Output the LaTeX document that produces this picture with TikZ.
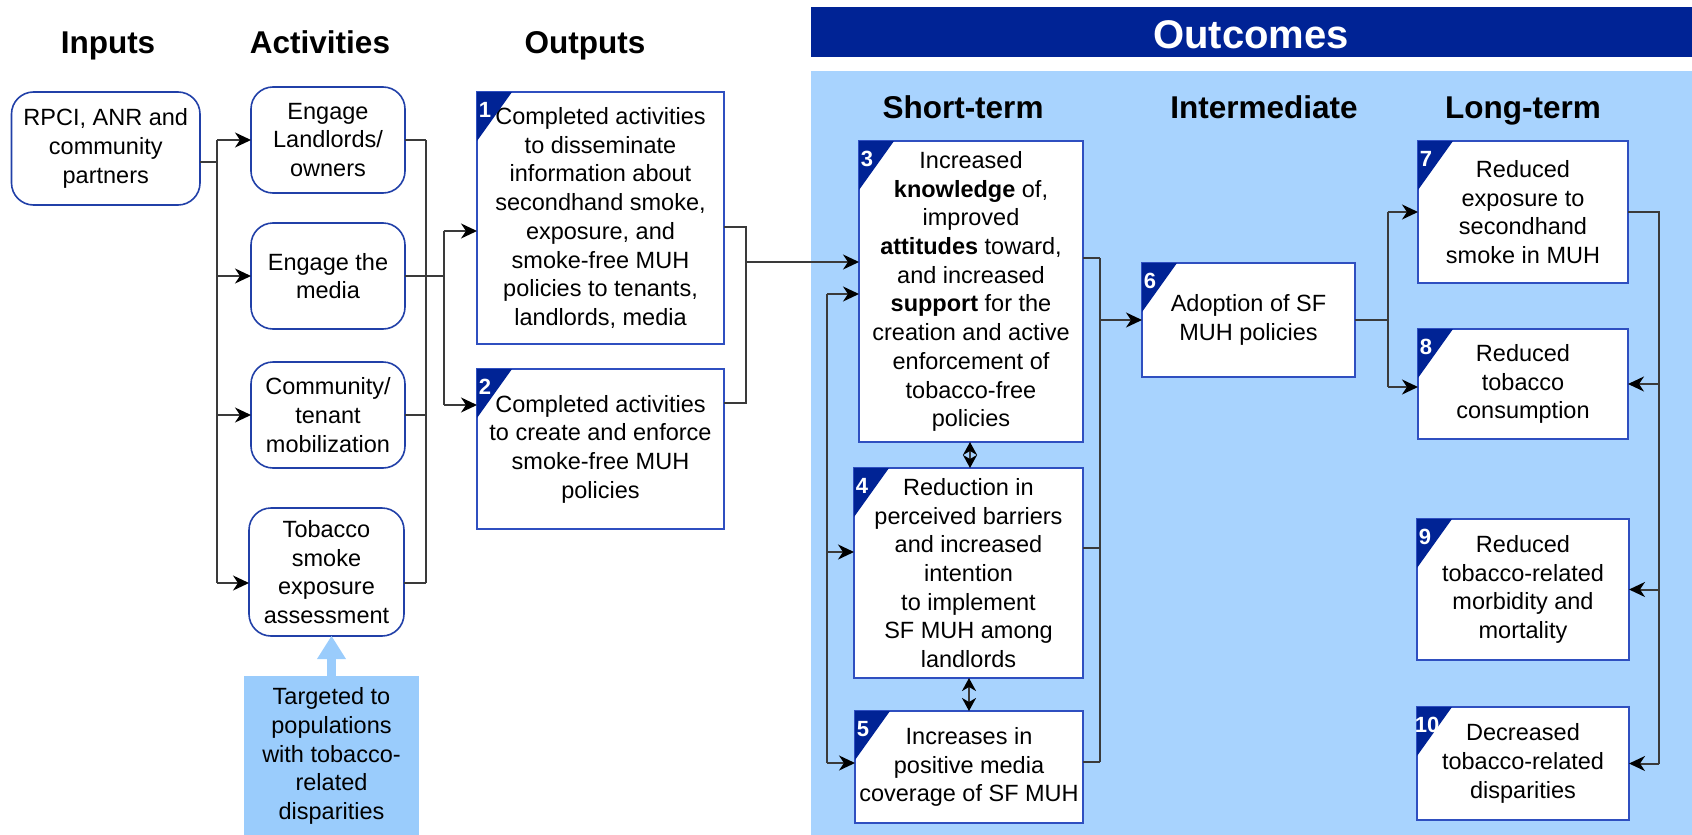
\documentclass[tikz,border=0pt]{standalone}
\usepackage{fontspec}
\setmainfont{Liberation Sans}
\usetikzlibrary{arrows.meta,calc}

\definecolor{navy}{HTML}{002395}
\definecolor{panelblue}{HTML}{A8D3FE}
\definecolor{tagblue}{HTML}{9ACCFC}
\definecolor{boxblue}{HTML}{2F4FC0}
\definecolor{rblue}{HTML}{2140A8}
\definecolor{wiregray}{HTML}{3A3A3A}

\newcommand\diagbody{\fontsize{23.5}{28.7}\selectfont}

\begin{document}
\begin{tikzpicture}[x=1pt,y=-1pt,
  box/.style={draw=boxblue,line width=2pt,fill=white,inner sep=0pt,outer sep=0pt,
    align=center,font=\diagbody},
  rbox/.style={box,draw=rblue,line width=1.6pt,rounded corners=22pt},
  coltitle/.style={anchor=base,font=\fontsize{31.5}{36}\selectfont\bfseries},
  numtag/.style={text=white,font=\fontsize{22}{24}\selectfont\bfseries,inner sep=0pt},
  wire/.style={draw=wiregray,line width=2pt},
  warrow/.style={wire,-{Stealth[length=16pt,width=15pt,inset=5pt,fill=black,color=black]}},
  dblarrow/.style={wire,{Stealth[length=13pt,width=14pt,inset=4pt,fill=black,color=black]}-{Stealth[length=13pt,width=14pt,inset=4pt,fill=black,color=black]}}
]
\useasboundingbox (0,0) rectangle (1692,835);

% outcomes banner and panel
\fill[navy] (811,7) rectangle (1692,57);
\fill[panelblue] (811,71) rectangle (1692,835);
\node[anchor=base,text=white,font=\fontsize{40}{44}\selectfont\bfseries] (outhead) at (1251,48) {Outcomes};

% column titles
\node[coltitle] (tin)  at (108,53)  {Inputs};
\node[coltitle] (tact) at (320,53)  {Activities};
\node[coltitle] (tout) at (585,53)  {Outputs};
\node[coltitle] (tst)  at (963,118) {Short-term};
\node[coltitle] (tint) at (1264,118) {Intermediate};
\node[coltitle] (tlt)  at (1523,118) {Long-term};

% inputs and activities
\node[rbox,minimum width=188.5pt,minimum height=113pt] (in) at (105.75,148.5)
  {RPCI, ANR and\\community\\partners};
\node[rbox,minimum width=154pt,minimum height=106pt] (a1) at (328,140) {Engage\\Landlords/\\owners};
\node[rbox,minimum width=154pt,minimum height=106pt] (a2) at (328,276) {Engage the\\media};
\node[rbox,minimum width=154pt,minimum height=106pt] (a3) at (328,415) {Community/\\tenant\\mobilization};
\node[rbox,minimum width=155pt,minimum height=128pt] (a4) at (326.5,572) {Tobacco\\smoke\\exposure\\assessment};
\node[box,draw=none,fill=tagblue,minimum width=175pt,minimum height=160pt] (tg) at (331.5,756)
  {Targeted to\\populations\\with tobacco-\\related\\disparities};

% outputs
\node[box,minimum width=247pt,minimum height=252pt] (o1) at (600.5,218)
  {Completed activities\\to disseminate\\information about\\secondhand smoke,\\exposure, and\\smoke-free MUH\\policies to tenants,\\landlords, media};
\node[box,minimum width=247pt,minimum height=160pt] (o2) at (600.5,449)
  {Completed activities\\to create and enforce\\smoke-free MUH\\policies};

% short-term outcomes
\node[box,minimum width=224pt,minimum height=301pt] (s3) at (971,291.5)
  {Increased\\\textbf{knowledge} of,\\improved\\\textbf{attitudes} toward,\\and increased\\\textbf{support} for the\\creation and active\\enforcement of\\tobacco-free\\policies};
\node[box,minimum width=229pt,minimum height=210pt] (s4) at (968.5,573)
  {Reduction in\\perceived barriers\\and increased\\intention\\to implement\\SF MUH among\\landlords};
\node[box,minimum width=228pt,minimum height=112pt] (s5) at (969,767)
  {Increases in\\positive media\\coverage of SF MUH};

% intermediate outcome
\node[box,minimum width=213pt,minimum height=114pt] (m6) at (1248.5,320) {Adoption of SF\\MUH policies};

% long-term outcomes
\node[box,minimum width=210pt,minimum height=142pt] (l7) at (1523,212) {Reduced\\exposure to\\secondhand\\smoke in MUH};
\node[box,minimum width=210pt,minimum height=110pt] (l8) at (1523,384) {Reduced\\tobacco\\consumption};
\node[box,minimum width=212pt,minimum height=141pt] (l9) at (1523,589.5) {Reduced\\tobacco-related\\morbidity and\\mortality};
\node[box,minimum width=212pt,minimum height=113pt] (l10) at (1523,763.5) {Decreased\\tobacco-related\\disparities};

% numbered corner tags
\foreach \n/\t/\dx in {o1/1/8,o2/2/8,s3/3/8,s4/4/8,s5/5/8,m6/6/8,l7/7/8,l8/8/8,l9/9/8,l10/10/10} {
  \fill[navy] (\n.north west) -- ++(35,0) -- ++(-35,49) -- cycle;
  \node[numtag] at ([xshift=\dx pt,yshift=-18pt]\n.north west) {\t};
}

% bus lines
\coordinate (busA) at (217,0);
\coordinate (busB) at (426,0);
\coordinate (busC) at (443.5,0);
\coordinate (busD) at (746,0);
\coordinate (busL) at (827,0);
\coordinate (busE) at (1100,0);
\coordinate (busF) at (1387.6,0);
\coordinate (busG) at (1659,0);

% connection points off the box centres
\coordinate (inout) at ([yshift=-13.5pt]in.east);
\coordinate (a4in)  at ([yshift=-11pt]a4.west);
\coordinate (a4out) at ([yshift=-11pt]a4.east);
\coordinate (o1in)  at ([yshift=-13pt]o1.west);
\coordinate (o2in)  at ([yshift=44pt]o2.west);
\coordinate (o1out) at ([yshift=-9pt]o1.east);
\coordinate (o2out) at ([yshift=46pt]o2.east);
\coordinate (s3in)  at ([yshift=29.5pt]s3.west);
\coordinate (s3loop) at ([yshift=-2.5pt]s3.west);
\coordinate (s4loop) at ([yshift=21pt]s4.west);
\coordinate (s5loop) at ([yshift=4pt]s5.west);
\coordinate (s3out) at ([yshift=33.5pt]s3.east);
\coordinate (s4out) at ([yshift=25pt]s4.east);
\coordinate (s5out) at ([yshift=5pt]s5.east);
\coordinate (l8in)  at ([yshift=-3pt]l8.west);

% inputs to activities
\draw[wire] (inout) -- (inout -| busA);
\draw[wire] (busA |- a1.west) -- (busA |- a4in);
\foreach \t in {a1.west,a2.west,a3.west,a4in}
  \draw[warrow] (busA |- \t) -- (\t);

% activities to outputs
\foreach \t in {a1.east,a3.east,a4out}
  \draw[wire] (\t) -- (\t -| busB);
\draw[wire] (busB |- a1.east) -- (busB |- a4out);
\draw[wire] (a2.east) -- (a2.east -| busC);
\draw[wire] (busC |- o1in) -- (busC |- o2in);
\draw[warrow] (busC |- o1in) -- (o1in);
\draw[warrow] (busC |- o2in) -- (o2in);

% outputs to short-term outcomes
\draw[wire] (o1out) -- (o1out -| busD) -- (busD |- o2out) -- (o2out);
\draw[warrow] (busD |- s3in) -- (s3in);

% feedback among short-term outcomes
\draw[wire] (busL |- s3loop) -- (busL |- s5loop);
\foreach \t in {s3loop,s4loop,s5loop}
  \draw[warrow] (busL |- \t) -- (\t);
\draw[dblarrow] (s3.south -| 970,0) -- (s4.north -| 970,0);
\draw[dblarrow] (s4.south -| 969,0) -- (s5.north -| 969,0);

% short-term to intermediate
\foreach \t in {s3out,s4out,s5out}
  \draw[wire] (\t) -- (\t -| busE);
\draw[wire] (busE |- s3out) -- (busE |- s5out);
\draw[warrow] (busE |- m6.west) -- (m6.west);

% intermediate to long-term
\draw[wire] (m6.east) -- (m6.east -| busF);
\draw[wire] (busF |- l7.west) -- (busF |- l8in);
\draw[warrow] (busF |- l7.west) -- (l7.west);
\draw[warrow] (busF |- l8in) -- (l8in);

% long-term cascade
\draw[wire] (l7.east) -- (l7.east -| busG) -- (busG |- l10.east);
\foreach \t in {l8.east,l9.east,l10.east}
  \draw[warrow] (busG |- \t) -- (\t);

% targeting note feeding the assessment
\draw[draw=tagblue,line width=9pt,-{Triangle[length=23pt,width=29pt,line width=0pt]}]
  (tg.north) -- (tg.north |- a4.south);
\end{tikzpicture}
\end{document}
